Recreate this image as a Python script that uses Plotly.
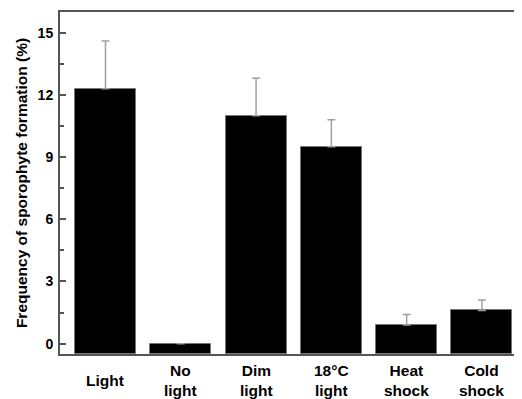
import plotly.graph_objects as go

categories = ["Light", "No<br>light", "Dim<br>light", "18°C<br>light", "Heat<br>shock", "Cold<br>shock"]
values = [12.3, 0.0, 11.0, 9.5, 0.9, 1.6]
errors = [2.3, 0.0, 1.8, 1.3, 0.5, 0.5]
y_ticks = [0, 3, 6, 9, 12, 15]

BASE = -0.5
xs = list(range(len(categories)))

fig = go.Figure()
fig.add_trace(go.Bar(
    x=xs, y=[v - BASE for v in values], base=BASE, width=0.81,
    marker=dict(color="black", line=dict(color="#777777", width=1)),
    showlegend=False, hoverinfo="skip",
))
fig.add_trace(go.Scatter(
    x=xs, y=values, mode="markers", marker=dict(opacity=0, size=1),
    error_y=dict(type="data", array=errors, arrayminus=[0]*len(errors), symmetric=False,
                 color="#a0a0a0", thickness=1.5, width=4),
    showlegend=False, hoverinfo="skip",
))

for x, lab in zip(xs, categories):
    fig.add_annotation(x=x, xref="x", y=0, yref="paper", text=lab, showarrow=False,
                       yanchor="middle", xanchor="center", valign="middle",
                       font=dict(family="Liberation Sans", size=15.5, color="black", weight="bold"),
                       yshift=-26)

fig.update_layout(
    width=522, height=399,
    margin=dict(l=52, r=0, t=4, b=53, autoexpand=False),
    paper_bgcolor="white", plot_bgcolor="white",
    bargap=0,
)
fig.update_xaxes(
    range=[-0.604, 5.638], showticklabels=False, ticks="", showgrid=False, zeroline=False,
    showline=True, linecolor="#555555", linewidth=2, mirror=True, automargin=False,
)
fig.update_yaxes(
    range=[BASE, 16.0], tickvals=y_ticks, ticks="inside", ticklen=6, tickwidth=1.5, tickcolor="#555555",
    minor=dict(tickvals=[1.5, 4.5, 7.5, 10.5, 13.5], ticks="inside", ticklen=4, tickwidth=1.5, tickcolor="#555555"),
    showgrid=False, zeroline=False, showline=True, linecolor="#555555", linewidth=2,
    tickfont=dict(family="Liberation Sans", size=14, color="black", weight="bold"),
    ticklabelstandoff=2, automargin=False,
    title=dict(text="Frequency of sporophyte formation (%)", standoff=6,
               font=dict(family="Liberation Sans", size=15.5, color="black", weight="bold")),
)

fig.write_html("out.html")
